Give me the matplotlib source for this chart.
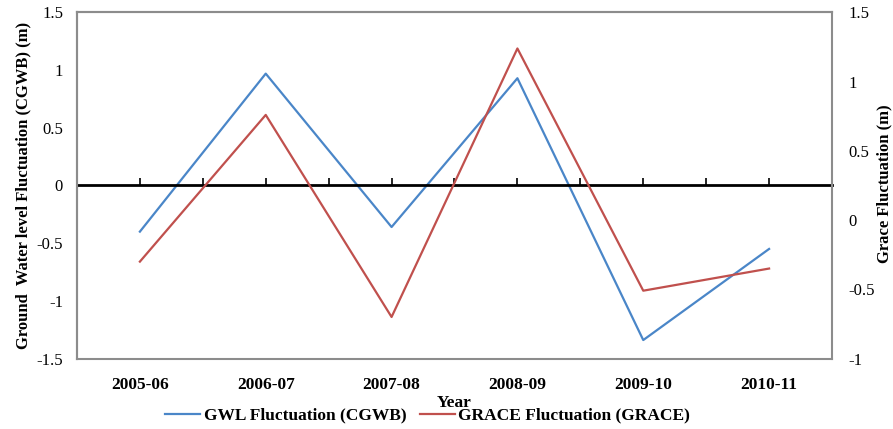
import matplotlib.pyplot as plt
from matplotlib.ticker import FuncFormatter, FixedLocator

plt.rcParams.update({
    "font.family": ["Liberation Serif", "DejaVu Serif"],
    "font.size": 12,
})

categories = ["2005-06", "2006-07", "2007-08", "2008-09", "2009-10", "2010-11"]
gwl = [-0.40, 0.97, -0.36, 0.93, -1.34, -0.55]
grace = [-0.30, 0.76, -0.70, 1.24, -0.51, -0.35]

BLUE = "#4a86c8"
RED = "#c0504d"
FRAME = "#8c8c8c"

x = list(range(len(categories)))

fig = plt.figure(figsize=(8.93, 4.29), dpi=100)
ax = fig.add_axes([0.0862, 0.1643, 0.8455, 0.8066])
ax2 = ax.twinx()

l1, = ax.plot(x, gwl, color=BLUE, linewidth=1.6, label="GWL Fluctuation (CGWB)")
l2, = ax2.plot(x, grace, color=RED, linewidth=1.6, label="GRACE Fluctuation (GRACE)")

ax.set_xlim(-0.5, len(categories) - 0.5)
ax.set_ylim(-1.5, 1.5)
ax2.set_ylim(-1.0, 1.5)

fmt = FuncFormatter(lambda v, p: f"{v:g}")
ax.set_yticks([-1.5, -1, -0.5, 0, 0.5, 1, 1.5])
ax.yaxis.set_major_formatter(fmt)
ax2.set_yticks([-1, -0.5, 0, 0.5, 1, 1.5])
ax2.yaxis.set_major_formatter(fmt)
ax.tick_params(axis="y", length=0, pad=10, labelsize=12)
ax2.tick_params(axis="y", length=0, pad=12, labelsize=12)

# category axis crossing at zero, tick marks at centres and boundaries
ax.spines["bottom"].set_position(("data", 0))
ax.spines["bottom"].set_color("black")
ax.spines["bottom"].set_linewidth(2.0)
ax.xaxis.set_major_locator(FixedLocator([i - 0.5 for i in range(len(categories) + 1)]))
ax.xaxis.set_minor_locator(FixedLocator(x))
ax.tick_params(axis="x", which="both", direction="in", length=5, width=1.2,
               color="black", labelbottom=False)

for name in ["left", "top"]:
    ax.spines[name].set_color(FRAME)
    ax.spines[name].set_linewidth(1.5)
for name in ["left", "top", "right", "bottom"]:
    ax2.spines[name].set_color(FRAME)
    ax2.spines[name].set_linewidth(1.5)
ax.spines["right"].set_visible(False)

# category labels below the frame
sec = ax.secondary_xaxis("bottom")
sec.spines["bottom"].set_visible(False)
sec.set_xticks(x)
sec.set_xticklabels(categories, fontweight="bold", fontsize=12.5)
sec.tick_params(length=0, pad=13)
sec.set_xlabel("Year", fontweight="bold", fontsize=12.5, labelpad=2)

ax.set_ylabel("Ground  Water level Fluctuation (CGWB) (m)", fontweight="bold",
              fontsize=12, labelpad=4)
ax2.set_ylabel("Grace Fluctuation (m)", fontweight="bold", fontsize=12,
               rotation=90, va="center")
ax2.yaxis.set_label_coords(1.069, 0.505)

fig.legend([l1, l2], [l1.get_label(), l2.get_label()], loc="center",
           bbox_to_anchor=(0.479, 0.031), ncol=2, frameon=False,
           handlelength=2.0, handletextpad=0.2, columnspacing=0.8,
           prop={"weight": "bold", "size": 12.5})

fig.savefig("out.png", dpi=100)
